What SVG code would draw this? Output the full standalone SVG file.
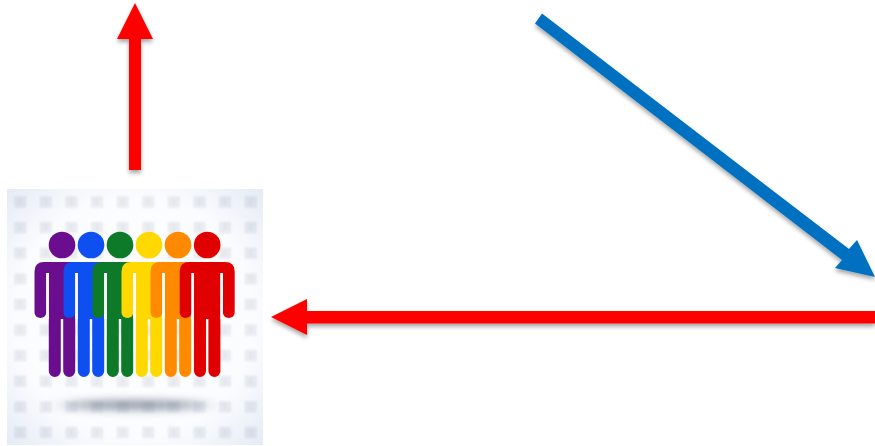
<svg xmlns="http://www.w3.org/2000/svg" width="875" height="446" viewBox="0 0 875 446">
<style>
.red{fill:#ff0000}
.blue{fill:#0070c0}
.arrow{filter:url(#shadow)}
.gap{fill:#ffffff}
</style>
<defs>
<filter id="shadow" x="-20%" y="-20%" width="140%" height="140%"><feDropShadow dx="0" dy="3" stdDeviation="2" flood-color="#000" flood-opacity="0.35"/></filter>
<filter id="soft" x="-5%" y="-5%" width="110%" height="110%"><feGaussianBlur stdDeviation="0.5"/></filter>
<filter id="softer" x="-5%" y="-5%" width="110%" height="110%"><feGaussianBlur stdDeviation="0.8"/></filter>
<filter id="floor" x="-30%" y="-300%" width="160%" height="700%"><feGaussianBlur stdDeviation="12 4"/></filter>
<radialGradient id="bg" cx="50%" cy="50%" r="72%">
<stop offset="0" stop-color="#ffffff"/><stop offset="0.65" stop-color="#fbfcfe"/><stop offset="1" stop-color="#e3eaf5"/>
</radialGradient>
<pattern id="tiles" x="14.500" y="196.500" width="25.6" height="25.6" patternUnits="userSpaceOnUse">
<rect x="0.500" y="0.500" width="10.500" height="10" fill="#f1f2f5" stroke="#e6e8ec"/>
<path d="M2.500 3.500H9M2.500 7H9M5.500 2V9" stroke="#e0e3e8" fill="none"/>
</pattern>
<g id="person">
<circle cx="0" cy="245" r="13.300"/>
<path d="M-18,262 H18 Q27.500,262 27.500,271.500 V313 A6,6 0 0 1 15.700,313 V273 H13.200 V371 A6,6 0 0 1 1.200,371 V319 H-1.200 V371 A6,6 0 0 1 -13.200,371 V273 H-15.700 V313 A6,6 0 0 1 -27.500,313 V271.500 Q-27.500,262 -18,262 Z"/>
<rect class="gap" x="-15.700" y="273" width="2.500" height="46"/>
<rect class="gap" x="13.200" y="273" width="2.500" height="46"/>
</g>
</defs>
<g id="people-image">
<rect x="7" y="189" width="256" height="256" fill="url(#bg)"/>
<rect x="7" y="189" width="256" height="256" fill="url(#tiles)" style="mix-blend-mode:multiply" filter="url(#softer)"/>
<ellipse cx="135" cy="405" rx="70" ry="5" fill="#6f7a8c" opacity="0.75" filter="url(#floor)"/>
<g filter="url(#soft)">
<use href="#person" x="62" fill="#6a0f8e"/>
<use href="#person" x="91" fill="#0a50f0"/>
<use href="#person" x="120" fill="#0a7a2a"/>
<use href="#person" x="149" fill="#ffd800"/>
<use href="#person" x="178" fill="#ff8a00"/>
<use href="#person" x="207.200" fill="#e00000"/>
</g>
</g>
<g id="connectors">
<polygon class="red arrow" points="135,3 153,39 141,39 141,170 129,170 129,39 117,39"/>
<polygon class="blue arrow" points="542,13.500 849,249 857,240 875,277 835,268 842,260 535,23.500"/>
<polygon class="red arrow" points="271,317 307,299 307,311 875,311 875,323.500 307,323.500 307,335"/>
</g>
</svg>
